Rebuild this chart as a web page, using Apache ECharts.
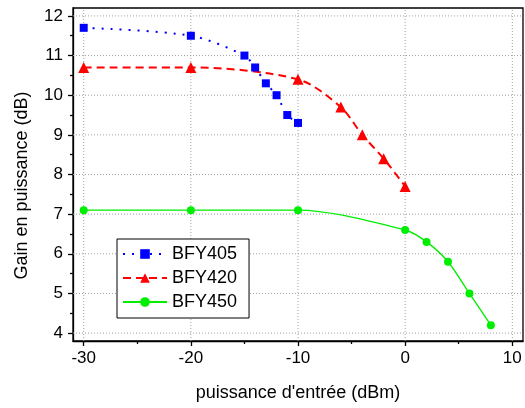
<!DOCTYPE html>
<html>
<head>
<meta charset="utf-8">
<script src="https://cdn.jsdelivr.net/npm/echarts@6/dist/echarts.min.js"></script>
<style>html,body{margin:0;padding:0;background:#fff;}#c{width:525px;height:408px;}</style>
</head>
<body>
<div id="c"></div>
<script>
// ---- data ----
const seriesNames = ['BFY405', 'BFY420', 'BFY450'];
const bfy405X = [-30, -20, -15, -14, -13, -12, -11, -10];
const bfy405Y = [11.7, 11.5, 11.0, 10.7, 10.3, 10.0, 9.5, 9.3];
const bfy420X = [-30, -20, -10, -6, -4, -2, 0];
const bfy420Y = [10.7, 10.7, 10.4, 9.7, 9.0, 8.4, 7.7];
const bfy450X = [-30, -20, -10, 0, 2, 4, 6, 8];
const bfy450Y = [7.1, 7.1, 7.1, 6.6, 6.3, 5.8, 5.0, 4.2];
const xMajorTicks = [-30, -20, -10, 0, 10];
const xMinorTicks = [-25, -15, -5, 5];
const yMajorTicks = [4, 5, 6, 7, 8, 9, 10, 11, 12];
const yMinorTicks = [4.5, 5.5, 6.5, 7.5, 8.5, 9.5, 10.5, 11.5];
const xName = "puissance d'entrée (dBm)";
const yName = 'Gain en puissance (dB)';
const X_MIN = -31, X_MAX = 11, Y_MIN = 3.8, Y_MAX = 12.2;

const zip = (xs, ys) => xs.map((x, i) => [x, ys[i]]);
const FONT = "'Liberation Sans', Arial, sans-serif";
const GRID_STYLE = {color: '#a0a0a0', type: [1, 2], width: 1};

const chart = echarts.init(document.getElementById('c'), null, {renderer: 'canvas'});
const baseX = {type: 'value', min: X_MIN, max: X_MAX, gridIndex: 0};
const baseY = {type: 'value', min: Y_MIN, max: Y_MAX, gridIndex: 0};

// dotted grid lines drawn as plain line series through the axes' scales
const gridSeries = xMajorTicks.map(v => ({
  name: 'gx' + v, type: 'line', z: 0, silent: true, symbol: 'none',
  data: [[v, Y_MIN], [v, Y_MAX]], lineStyle: GRID_STYLE, tooltip: {show: false}
})).concat(yMajorTicks.map(v => ({
  name: 'gy' + v, type: 'line', z: 0, silent: true, symbol: 'none',
  data: [[X_MIN, v], [X_MAX, v]], lineStyle: GRID_STYLE, tooltip: {show: false}
})));

chart.setOption({
  animation: false,
  backgroundColor: '#fff',
  textStyle: {fontFamily: FONT},
  grid: {left: 73, right: 2, top: 8, bottom: 67, show: true, borderColor: '#000', borderWidth: 1.3, backgroundColor: 'transparent'},
  xAxis: [
    Object.assign({}, baseX, {
      position: 'bottom',
      name: xName, nameLocation: 'middle', nameGap: 43,
      nameTextStyle: {fontSize: 18, color: '#000', fontFamily: FONT},
      axisLine: {show: true, onZero: false, lineStyle: {color: '#000', width: 1.3}},
      axisTick: {show: true, length: 5, inside: false, customValues: xMajorTicks, lineStyle: {color: '#000', width: 1.3}},
      axisLabel: {fontSize: 17, color: '#000', margin: 9, customValues: xMajorTicks, fontFamily: FONT},
      splitLine: {show: false}
    }),
    Object.assign({}, baseX, {
      position: 'bottom',
      axisLine: {show: false, onZero: false},
      axisTick: {show: true, length: 3, customValues: xMinorTicks, lineStyle: {color: '#000', width: 1.3}},
      axisLabel: {show: false},
      splitLine: {show: false}
    })
  ],
  yAxis: [
    Object.assign({}, baseY, {
      position: 'left',
      name: yName, nameLocation: 'middle', nameGap: 42,
      nameTextStyle: {fontSize: 18, color: '#000', fontFamily: FONT, padding: [0, 22, 0, 0]},
      axisLine: {show: true, onZero: false, lineStyle: {color: '#000', width: 1.3}},
      axisTick: {show: true, length: 5, customValues: yMajorTicks, lineStyle: {color: '#000', width: 1.3}},
      axisLabel: {fontSize: 17, color: '#000', margin: 10, customValues: yMajorTicks, fontFamily: FONT},
      splitLine: {show: false}
    }),
    Object.assign({}, baseY, {
      position: 'left',
      axisLine: {show: false, onZero: false},
      axisTick: {show: true, length: 3, customValues: yMinorTicks, lineStyle: {color: '#000', width: 1.3}},
      axisLabel: {show: false},
      splitLine: {show: false}
    })
  ],
  legend: {
    orient: 'vertical', left: 117, top: 239, z: 10,
    backgroundColor: '#fff', borderColor: '#000', borderWidth: 1,
    padding: [6, 12, 7, 5],
    itemWidth: 44, itemHeight: 12, itemGap: 6,
    textStyle: {fontSize: 18, color: '#000', fontFamily: FONT},
    data: seriesNames
  },
  series: gridSeries.concat([
    {
      name: seriesNames[0], type: 'line', data: zip(bfy405X, bfy405Y), z: 3,
      smooth: 0.3, symbol: 'rect', symbolSize: 8,
      itemStyle: {color: '#0000ff'},
      lineStyle: {color: '#0000ff', width: 2, type: [2, 7]}
    },
    {
      name: seriesNames[1], type: 'line', data: zip(bfy420X, bfy420Y), z: 3,
      smooth: 0.3, symbol: 'triangle', symbolSize: 11,
      itemStyle: {color: '#ff0000'},
      lineStyle: {color: '#ff0000', width: 2, type: [8, 5]}
    },
    {
      name: seriesNames[2], type: 'line', data: zip(bfy450X, bfy450Y), z: 3,
      smooth: 0.3, symbol: 'circle', symbolSize: 8,
      itemStyle: {color: '#00ee00'},
      lineStyle: {color: '#00ee00', width: 1.3, type: 'solid'}
    }
  ])
});
</script>
</body>
</html>
